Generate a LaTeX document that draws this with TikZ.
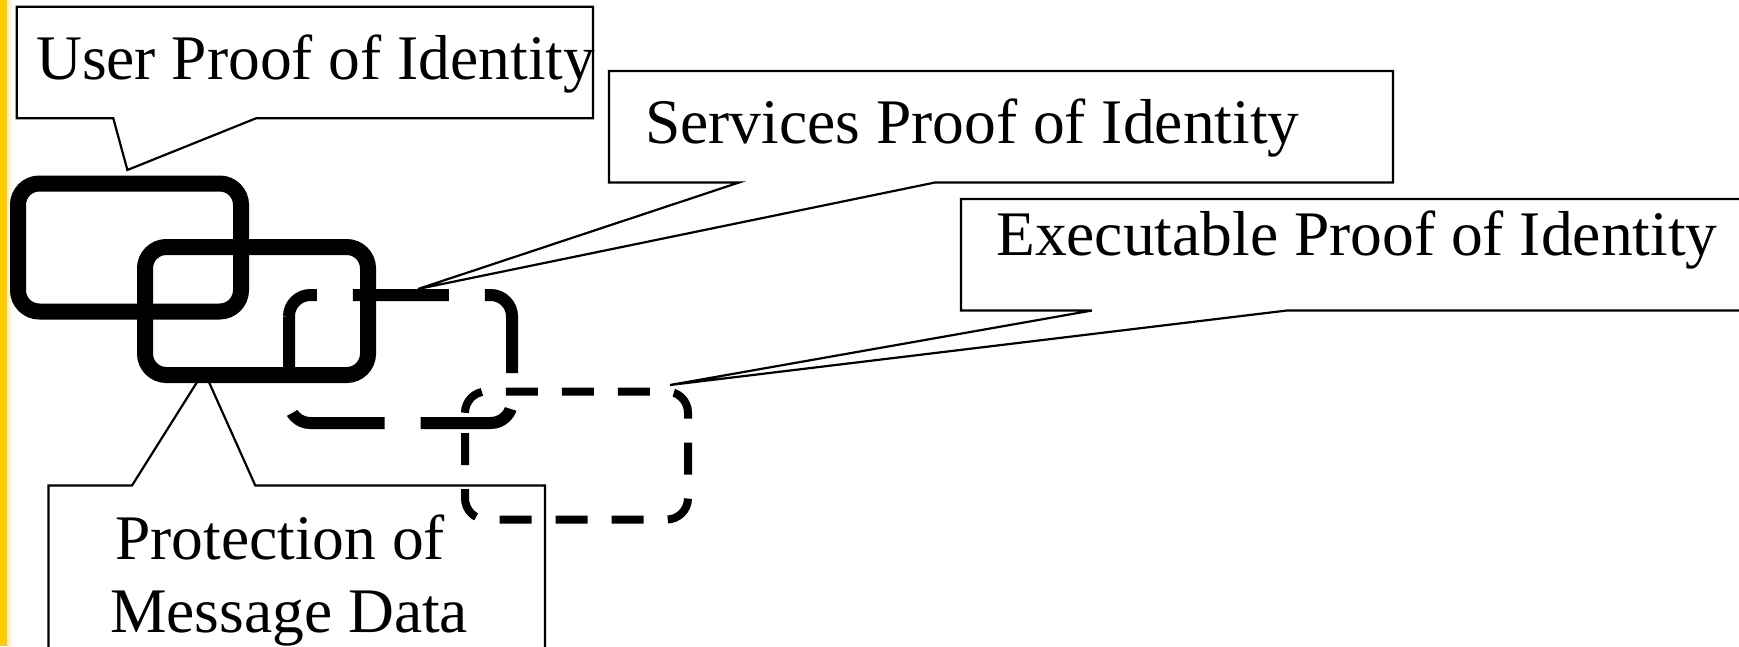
\documentclass[tikz,border=0pt]{standalone}
\usepackage{fontspec}
\setmainfont{Liberation Serif}
\definecolor{baryellow}{RGB}{255,204,0}
\definecolor{barfade}{RGB}{255,238,170}
\begin{document}
\begin{tikzpicture}[x=1pt,y=-1pt,
  callout/.style={draw=black,fill=white,line width=2.2pt,line join=miter},
  lbl/.style={anchor=base west,inner sep=0pt,font=\fontsize{63.5}{70}\selectfont},
  solidlink/.style={draw=black,line width=16pt,rounded corners=21.3pt},
  longdashlink/.style={draw=black,line width=12pt,rounded corners=21.3pt,dash pattern=on 96pt off 36pt,dash phase=56pt},
  dashlink/.style={draw=black,line width=8pt,rounded corners=21.3pt,dash pattern=on 32pt off 24pt,dash phase=3pt}]
\useasboundingbox (0,0) rectangle (1739,646);
\fill[white] (0,0) rectangle (1739,646);
\fill[baryellow] (0,0) rectangle (7,646);
\shade[left color=barfade,right color=white] (7,0) rectangle (13,646);

% callouts
\draw[callout] (16.7,6.7) -- (593,6.7) -- (593,118.3) -- (256,118.3) -- (127.4,170) -- (113.3,118.3) -- (16.7,118.3) -- cycle;
\draw[callout] (609,71) -- (1393,71) -- (1393,182.5) -- (935,182.5) -- (418,289) -- (739,182.5) -- (609,182.5) -- cycle;
\draw[callout] (961,199) -- (1745,199) -- (1745,310.5) -- (1287,310.5) -- (670,385) -- (1092,310.5) -- (961,310.5) -- cycle;
\draw[callout] (48.5,485.5) -- (132,485.5) -- (204,371) -- (255.3,485.5) -- (545,485.5) -- (545,660) -- (48.5,660) -- cycle;

% labels
\node[lbl] (user) at (36,79.5) {User Proof of Identity};
\node[lbl] (services) at (645,143.5) {Services Proof of Identity};
\node[lbl] (exec) at (996,255.5) {Executable Proof of Identity};
\node[lbl] (prot1) at (115,559) {Protection of};
\node[lbl] (prot2) at (110,632) {Message Data};

% links
\draw[solidlink] (18,250) -- (18,183.5) -- (241,183.5) -- (241,311.5) -- (18,311.5) -- cycle;
\draw[solidlink] (145,311) -- (145,247) -- (368,247) -- (368,375) -- (145,375) -- cycle;
\draw[longdashlink] (289,316.3) -- (289,295) -- (512,295) -- (512,423) -- (289,423) -- (289,316.3);
\draw[dashlink] (465,412.8) -- (465,391.5) -- (688,391.5) -- (688,519.5) -- (465,519.5) -- (465,412.8);
\end{tikzpicture}
\end{document}
